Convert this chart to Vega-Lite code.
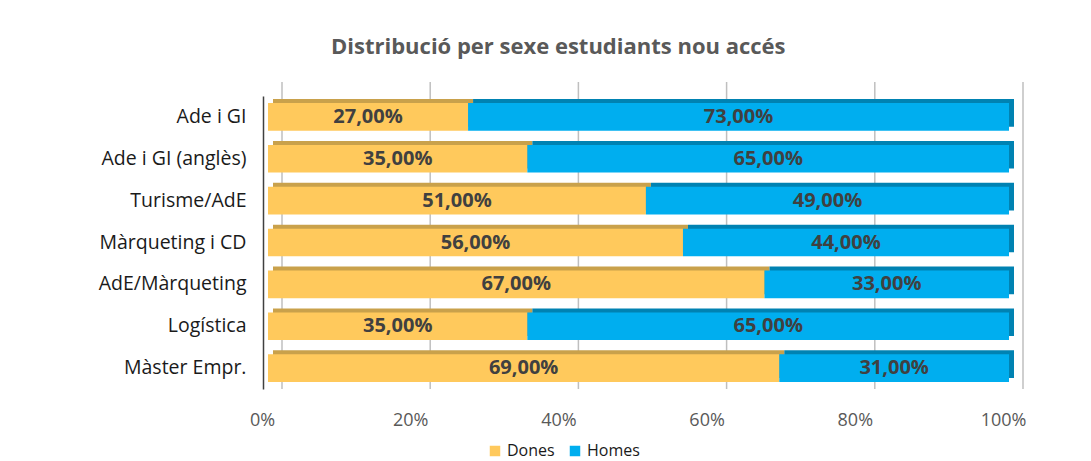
{
  "$schema": "https://vega.github.io/schema/vega-lite/v6.json",
  "width": 741,
  "height": 293,
  "autosize": {"type": "none"},
  "padding": {"left": 268, "top": 96, "right": 82, "bottom": 72},
  "background": "white",
  "title": {
    "text": "Distribució per sexe estudiants nou accés",
    "anchor": "start",
    "frame": "group",
    "dx": 63,
    "offset": 22,
    "fontSize": 22,
    "font": "Open Sans",
    "fontWeight": "bold",
    "color": "#595959"
  },
  "datasets": {
    "bars": [
      {"programa": "Ade i GI", "sexe": "Dones", "pct": 27},
      {"programa": "Ade i GI", "sexe": "Homes", "pct": 73},
      {"programa": "Ade i GI (anglès)", "sexe": "Dones", "pct": 35},
      {"programa": "Ade i GI (anglès)", "sexe": "Homes", "pct": 65},
      {"programa": "Turisme/AdE", "sexe": "Dones", "pct": 51},
      {"programa": "Turisme/AdE", "sexe": "Homes", "pct": 49},
      {"programa": "Màrqueting i CD", "sexe": "Dones", "pct": 56},
      {"programa": "Màrqueting i CD", "sexe": "Homes", "pct": 44},
      {"programa": "AdE/Màrqueting", "sexe": "Dones", "pct": 67},
      {"programa": "AdE/Màrqueting", "sexe": "Homes", "pct": 33},
      {"programa": "Logística", "sexe": "Dones", "pct": 35},
      {"programa": "Logística", "sexe": "Homes", "pct": 65},
      {"programa": "Màster Empr.", "sexe": "Dones", "pct": 69},
      {"programa": "Màster Empr.", "sexe": "Homes", "pct": 31}
    ],
    "grid": [
      {"v": 0}, {"v": 20}, {"v": 40}, {"v": 60}, {"v": 80}, {"v": 100}
    ]
  },
  "layer": [
    {
      "data": {"name": "grid"},
      "mark": {"type": "rule", "color": "#BFBFBF", "strokeWidth": 1.5, "xOffset": 14, "yOffset": -14, "y2Offset": -4},
      "encoding": {
        "x": {
          "field": "v",
          "type": "quantitative",
          "scale": {"domain": [0, 100]},
          "title": null,
          "axis": {
            "values": [0, 20, 40, 60, 80, 100],
            "labelExpr": "datum.value + '%'",
            "labelFlush": false,
            "labelOffset": -6,
            "grid": false,
            "domain": false,
            "ticks": false,
            "labelPadding": 22,
            "labelFontSize": 18,
            "labelFont": "Open Sans",
            "labelColor": "#595959"
          }
        }
      }
    },
    {
      "data": {"name": "bars"},
      "transform": [
        {"stack": "pct", "groupby": ["programa"], "as": ["x0", "x1"], "sort": [{"field": "sexe"}]},
        {"calculate": "(datum.x0 + datum.x1) / 2", "as": "xm"},
        {"calculate": "replace(format(datum.pct, '.2f'), '.', ',') + '%'", "as": "label"}
      ],
      "encoding": {
        "y": {
          "field": "programa",
          "type": "nominal",
          "sort": ["Ade i GI", "Ade i GI (anglès)", "Turisme/AdE", "Màrqueting i CD", "AdE/Màrqueting", "Logística", "Màster Empr."],
          "scale": {"paddingInner": 0.34, "paddingOuter": 0.17},
          "title": null,
          "axis": {
            "ticks": false,
            "domain": true,
            "domainColor": "#404040",
            "domainWidth": 1.5,
            "offset": 5,
            "labelPadding": 17,
            "labelFontSize": 19.5,
            "labelFont": "Open Sans",
            "labelColor": "#1a1a1a",
            "grid": false
          }
        }
      },
      "layer": [
        {
          "mark": {"type": "bar", "xOffset": 5, "x2Offset": 5, "yOffset": -4, "y2Offset": -4},
          "encoding": {
            "x": {"field": "x0", "type": "quantitative", "title": null},
            "x2": {"field": "x1"},
            "color": {
              "field": "sexe",
              "type": "nominal",
              "scale": {"domain": ["Dones", "Homes"], "range": ["#C9A14B", "#0082B2"]},
              "legend": null
            }
          }
        },
        {
          "mark": {"type": "bar"},
          "encoding": {
            "x": {"field": "x0", "type": "quantitative", "title": null},
            "x2": {"field": "x1"},
            "color": {
              "field": "sexe",
              "type": "nominal",
              "scale": {"domain": ["Dones", "Homes"], "range": ["#FFC95C", "#00AEEF"]},
              "legend": {
                "title": null,
                "orient": "none",
                "legendX": 219,
                "legendY": 347,
                "direction": "horizontal",
                "symbolType": "square",
                "symbolSize": 110,
                "symbolStrokeWidth": 0,
                "labelFontSize": 16,
                "labelFont": "Open Sans",
                "labelColor": "#1a1a1a",
                "columnPadding": 12,
                "labelOffset": 4
              }
            }
          }
        },
        {
          "mark": {"type": "text", "fontWeight": "bold", "fontSize": 20, "font": "Open Sans", "color": "#404040"},
          "encoding": {
            "x": {"field": "xm", "type": "quantitative", "title": null},
            "text": {"field": "label", "type": "nominal"}
          }
        }
      ],
      "resolve": {"scale": {"color": "independent"}}
    }
  ],
  "config": {
    "view": {"stroke": null}
  }
}
